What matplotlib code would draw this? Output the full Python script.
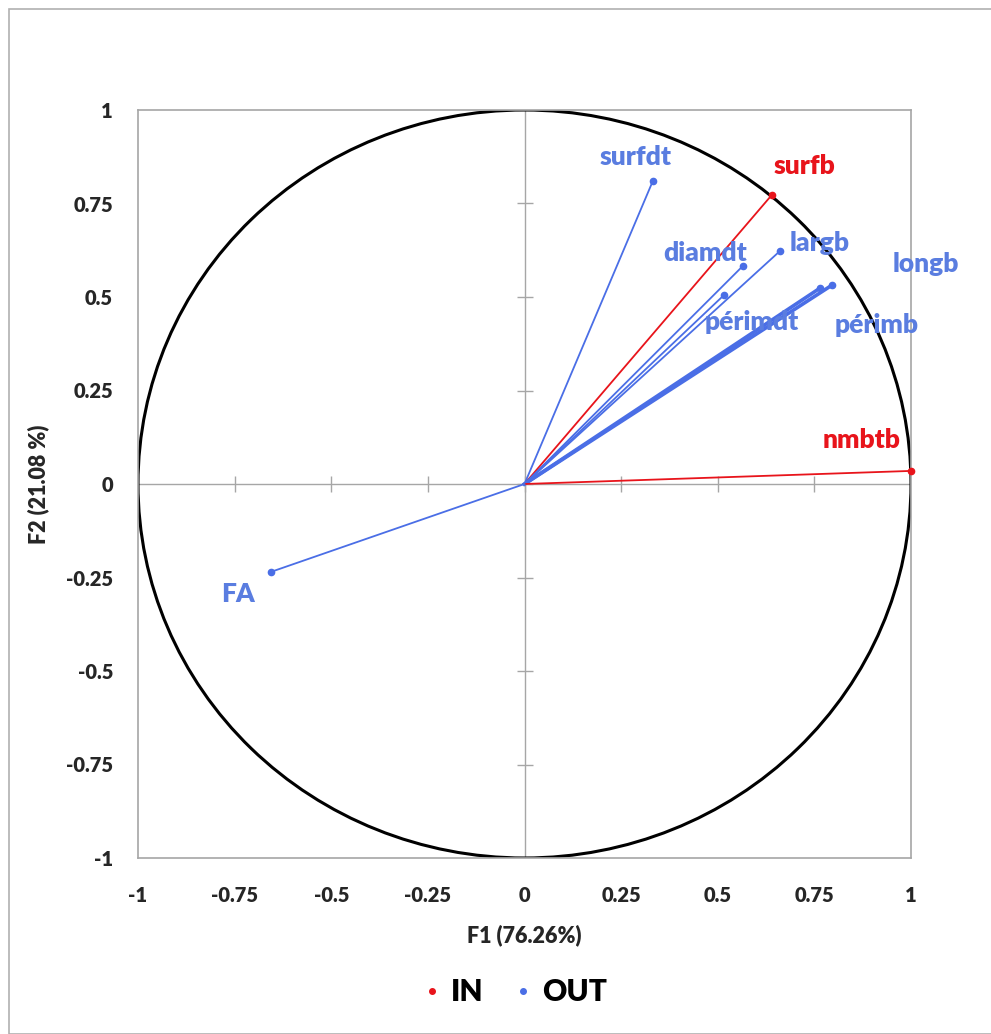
import matplotlib
matplotlib.use("Agg")
import matplotlib.pyplot as plt
from matplotlib.patches import Ellipse, Rectangle
from matplotlib.lines import Line2D
import numpy as np

# Data: variable coordinates on F1/F2
names = ["surfdt", "surfb", "largb", "diamdt", "périmdt", "longb", "périmb", "nmbtb", "FA"]
f1 = [0.332, 0.640, 0.661, 0.565, 0.516, 0.796, 0.765, 1.000, -0.656]
f2 = [0.810, 0.773, 0.623, 0.583, 0.505, 0.532, 0.524, 0.035, -0.235]
group = ["OUT", "IN", "OUT", "OUT", "OUT", "OUT", "OUT", "IN", "OUT"]
ticks = [-1, -0.75, -0.5, -0.25, 0, 0.25, 0.5, 0.75, 1]
tick_labels = ["-1", "-0.75", "-0.5", "-0.25", "0", "0.25", "0.5", "0.75", "1"]
xlabel = "F1 (76.26%)"
ylabel = "F2 (21.08 %)"

# label offsets in pixels (style)
offsets = {"surfdt": (-17, 24), "surfb": (33, 29), "largb": (40, 8), "diamdt": (-38, 13),
           "périmdt": (28, -27), "longb": (94, 21), "périmb": (56, -37), "nmbtb": (-49, 31),
           "FA": (-33, -22)}
widths = {"longb": 2.6, "périmb": 2.6}

BLUE = "#4a6ee6"
BLUE_TXT = "#5a7de0"
RED = "#e8141b"
colors = {"IN": RED, "OUT": BLUE}
txtcolors = {"IN": RED, "OUT": BLUE_TXT}

plt.rcParams['font.family'] = ['Lato', 'DejaVu Sans']

fig = plt.figure(figsize=(9.91, 10.34), dpi=100)
fig.patches.append(Rectangle((9/991, 0), 1.2, (1034-9)/1034, transform=fig.transFigure,
                             fill=False, edgecolor="#b0b0b0", linewidth=1.2))
ax = fig.add_axes([138/991, (1034-858)/1034, 773/991, 748/1034])
ax.set_xlim(-1, 1)
ax.set_ylim(-1, 1)

for s in ax.spines.values():
    s.set_color("#a6a6a6")
    s.set_linewidth(1.2)

ax.axhline(0, color="#a6a6a6", lw=1.0, zorder=1)
ax.axvline(0, color="#a6a6a6", lw=1.0, zorder=1)
tk = [t for t in ticks if t not in (-1, 1)]
ax.plot(tk, [0]*len(tk), ls="none", marker="|", ms=11, mec="#a6a6a6", mew=1.0, zorder=1)
ax.plot([0]*len(tk), tk, ls="none", marker="_", ms=11, mec="#a6a6a6", mew=1.0, zorder=1)

ax.add_patch(Ellipse((0, 0), 2, 2, fill=False, edgecolor="black", linewidth=2.2, zorder=2))

for n, x, y, g in zip(names, f1, f2, group):
    c = colors[g]
    ax.plot([0, x], [0, y], color=c, lw=widths.get(n, 1.3), zorder=3)
    ax.plot([x], [y], ls="none", marker="o", ms=4.5, color=c, zorder=4, clip_on=False)
    dx, dy = offsets[n]
    ax.annotate(n, (x, y), xytext=(dx, dy), textcoords="offset pixels",
                ha="center", va="center", color=txtcolors[g], fontsize=19,
                fontweight="heavy", zorder=5, annotation_clip=False)

ax.set_xticks(ticks)
ax.set_xticklabels(tick_labels)
ax.set_yticks(ticks)
ax.set_yticklabels(tick_labels)
ax.tick_params(axis="both", length=0, labelsize=14.5, labelcolor="#262626")
ax.tick_params(axis="x", pad=20)
ax.tick_params(axis="y", pad=18)
for lab in ax.get_xticklabels() + ax.get_yticklabels():
    lab.set_fontweight("heavy")

ax.set_xlabel(xlabel, fontsize=15.5, fontweight="heavy", labelpad=14, color="#262626")
ax.set_ylabel(ylabel, fontsize=15.5, fontweight="heavy", labelpad=12, color="#262626")

handles = [Line2D([], [], ls="none", marker="o", ms=4, color=colors[g]) for g in ["IN", "OUT"]]
fig.legend(handles, ["IN", "OUT"], loc="center", bbox_to_anchor=(0.518, 42/1034), ncol=2,
           frameon=False, prop={"size": 21.5, "weight": "heavy"}, handletextpad=0.25,
           columnspacing=0.9, handlelength=0.8)

fig.savefig("out.png", dpi=100)
